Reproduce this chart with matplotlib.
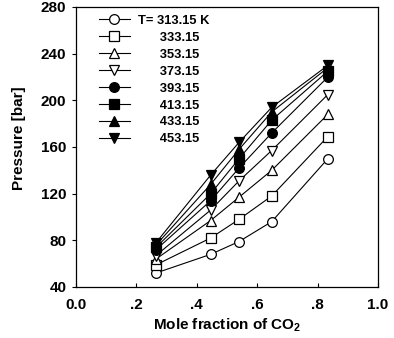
import numpy as np
import matplotlib.pyplot as plt

plt.rcParams['font.family'] = ['Liberation Sans', 'DejaVu Sans']
plt.rcParams['font.weight'] = 'bold'

# mole fraction of CO2
x_co2 = [0.265, 0.446, 0.54, 0.648, 0.834]

# pressure (bar) per temperature
temps = ['313.15', '333.15', '353.15', '373.15', '393.15', '413.15', '433.15', '453.15']
p_313 = [52, 68, 79, 96, 150]
p_333 = [59, 82, 98, 118, 169]
p_353 = [64, 97, 117, 140, 188]
p_373 = [67, 106, 131, 157, 205]
p_393 = [72, 114, 142, 172, 220]
p_413 = [74, 120, 150, 183, 225]
p_433 = [76, 128, 158, 190, 228]
p_453 = [78, 136, 164, 194, 230]
series = [p_313, p_333, p_353, p_373, p_393, p_413, p_433, p_453]

markers = ['o', 's', '^', 'v', 'o', 's', '^', 'v']
fills = ['white'] * 4 + ['black'] * 4

fig = plt.figure(figsize=(3.94, 3.38), dpi=100)
ax = fig.add_axes([76 / 394, 51 / 338, 302 / 394, 280 / 338])

for i, p in enumerate(series):
    if i == 0:
        lab = 'T= ' + temps[i] + ' K'
    else:
        lab = '      ' + temps[i]
    ax.plot(x_co2, p, color='black', lw=0.8, marker=markers[i], ms=7,
            mfc=fills[i], mec='black', mew=0.9, label=lab)

ax.set_xlim(0, 1.0)
ax.set_ylim(40, 280)
ax.set_xticks([0, 0.2, 0.4, 0.6, 0.8, 1.0])
ax.set_xticklabels(['0.0', '.2', '.4', '.6', '.8', '1.0'])
ax.set_yticks(np.arange(40, 281, 40))
ax.tick_params(axis='x', direction='in', length=3, labelsize=11, pad=8)
ax.tick_params(axis='y', direction='out', length=3, labelsize=11, pad=4)
for s in ax.spines.values():
    s.set_linewidth(0.9)

ax.set_xlabel('Mole fraction of CO$_\\mathregular{2}$', fontsize=11, fontweight='bold', labelpad=3)
ax.set_ylabel('Pressure [bar]', fontsize=11, fontweight='bold')
ax.yaxis.set_label_coords(-0.165, 0.53)

ax.legend(loc='upper left', frameon=False, fontsize=9.3, handlelength=2.4,
          labelspacing=0.38, borderaxespad=0.2, bbox_to_anchor=(0.05, 1.0),
          handletextpad=0.6)

fig.savefig('out.png', dpi=100)
